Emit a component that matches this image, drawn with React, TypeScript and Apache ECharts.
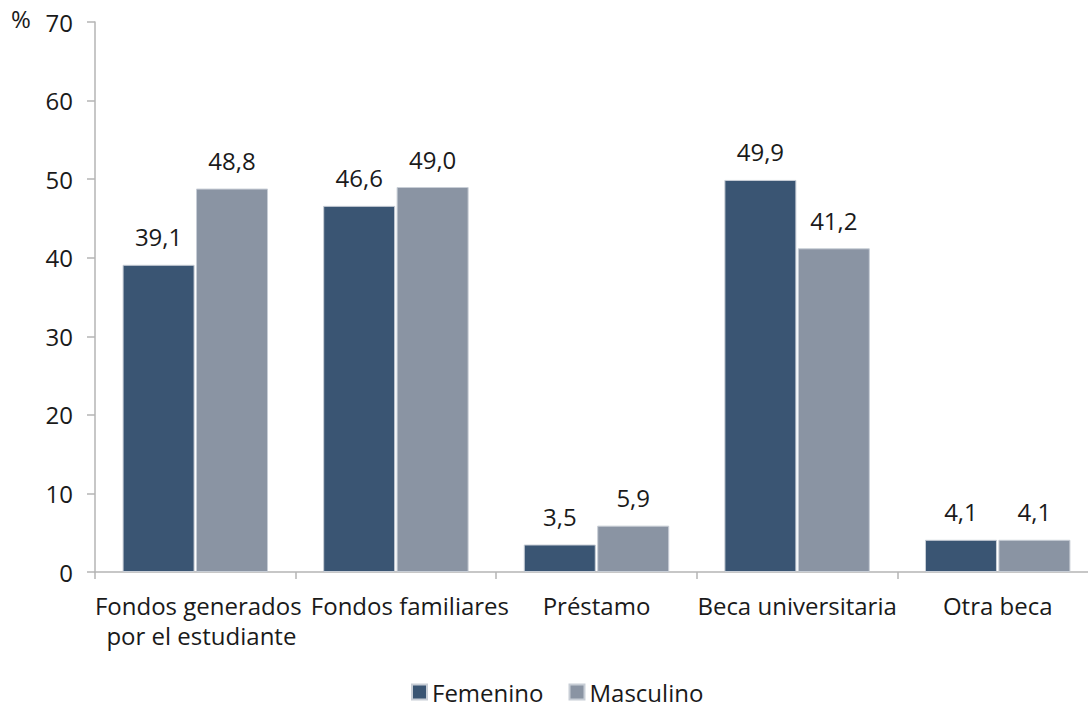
import React, { useEffect, useRef } from "react";
import * as echarts from "echarts";

const categories = [
  "Fondos generados\n por el estudiante",
  "Fondos familiares",
  "Préstamo",
  "Beca universitaria",
  "Otra beca",
];
const femenino = [39.1, 46.6, 3.5, 49.9, 4.1];
const masculino = [48.8, 49.0, 5.9, 41.2, 4.1];
const yTicks = [0, 10, 20, 30, 40, 50, 60, 70];

const FONT = "'Open Sans', 'Noto Sans', sans-serif";
const FS = 24;
const fmt = (v: number) => v.toFixed(1).replace(".", ",");
// extra left padding per category label (to mimic the original label offsets)
const labelShift = [6, 28, 0, 0, 0];

export default function App() {
  const ref = useRef<HTMLDivElement>(null);
  useEffect(() => {
    const chart = echarts.init(ref.current!, undefined, { renderer: "svg" });
    chart.setOption({
      animation: false,
      textStyle: { fontFamily: FONT },
      grid: {
        left: 95,
        top: 22,
        bottom: 135,
        width: 1003,
        containLabel: false,
        outerBoundsMode: "none",
      },
      legend: {
        bottom: 2,
        left: 411,
        padding: 0,
        itemWidth: 15,
        itemHeight: 15,
        itemGap: 25,
        icon: "rect",
        textStyle: { fontSize: FS, lineHeight: 26, color: "#1a1a1a", fontFamily: FONT },
        data: ["Femenino", "Masculino"],
      },
      graphic: [
        {
          type: "text",
          left: 11,
          top: 6,
          style: { text: "%", fontSize: FS, fill: "#1a1a1a", fontFamily: FONT },
        },
      ],
      xAxis: {
        type: "category",
        data: categories.map((c, i) => ({
          value: c,
          textStyle: { padding: [0, 0, 0, labelShift[i]] },
        })),
        axisLine: { lineStyle: { color: "#b5b5b5", width: 1.5 } },
        axisTick: { show: true, length: 7, lineStyle: { color: "#b5b5b5", width: 1.5 } },
        axisLabel: {
          interval: 0,
          fontSize: FS,
          color: "#1a1a1a",
          margin: 18,
          lineHeight: 30,
          fontFamily: FONT,
        },
      },
      yAxis: {
        type: "value",
        min: yTicks[0],
        max: yTicks[yTicks.length - 1],
        interval: 10,
        splitLine: { show: false },
        axisLine: { show: true, lineStyle: { color: "#b5b5b5", width: 1.5 } },
        axisTick: { show: true, length: 8, lineStyle: { color: "#b5b5b5", width: 1.5 } },
        axisLabel: { fontSize: FS, color: "#1a1a1a", margin: 22, fontFamily: FONT },
      },
      series: [
        {
          name: "Femenino",
          type: "bar",
          data: femenino,
          barWidth: 72,
          barGap: "2%",
          itemStyle: { color: "#3a5573", borderColor: "#c8ced6", borderWidth: 1 },
          label: {
            show: true,
            position: "top",
            distance: 16,
            fontSize: FS,
            color: "#1a1a1a",
            fontFamily: FONT,
            formatter: (p: any) => fmt(p.value),
          },
        },
        {
          name: "Masculino",
          type: "bar",
          data: masculino,
          barWidth: 72,
          itemStyle: { color: "#8a94a3", borderColor: "#c8ced6", borderWidth: 1 },
          label: {
            show: true,
            position: "top",
            distance: 16,
            fontSize: FS,
            color: "#1a1a1a",
            fontFamily: FONT,
            formatter: (p: any) => fmt(p.value),
          },
        },
      ],
    });
    return () => chart.dispose();
  }, []);
  return (
    <div
      ref={ref}
      style={{ position: "fixed", left: 0, top: 0, width: 1088, height: 707, background: "#fff" }}
    />
  );
}
